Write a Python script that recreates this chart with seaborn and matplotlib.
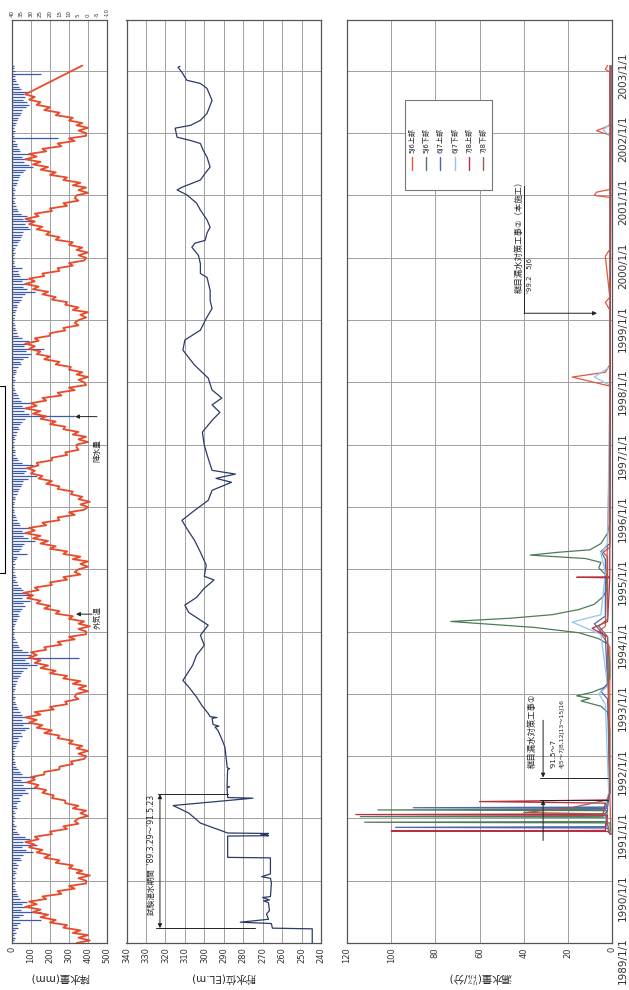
import pandas as pd
import numpy as np
import matplotlib
matplotlib.use('Agg')
import matplotlib.pyplot as plt
import matplotlib.dates as mdates
import matplotlib.transforms as mtransforms
from matplotlib.patches import Rectangle
from matplotlib.lines import Line2D
import seaborn as sns

sns.set_style('white')
plt.rcParams['font.family'] = ['DejaVu Sans', 'Noto Sans CJK JP']
plt.rcParams['axes.unicode_minus'] = False

years = list(range(1989, 2004))
year_labels = ['%d/1/1' % y for y in years]

# outside air temperature (deg C), half-monthly from 1989/1/1 (1st, 16th)
temp_c = [
    6, -1, 5, 0, 8, 4, 13, 11, 20, 17, 25, 21, 29, 25, 33, 27, 31, 22, 24, 14, 16, 7, 10, 1,   # 1989
    1, 5, -1, 6, 3, 10, 8, 17, 15, 23, 20, 27, 24, 31, 28, 33, 26, 28, 19, 20, 11, 13, 5, 7,   # 1990
    5, 0, 4, 1, 8, 5, 12, 12, 19, 18, 24, 22, 28, 26, 32, 28, 30, 23, 23, 15, 15, 8, 9, 2,     # 1991
    1, 5, 0, 6, 3, 10, 8, 16, 15, 23, 19, 27, 24, 31, 27, 33, 25, 28, 18, 20, 11, 12, 5, 7,    # 1992
    6, 0, 5, 1, 8, 4, 13, 11, 20, 17, 25, 21, 28, 25, 31, 27, 30, 22, 23, 14, 16, 7, 10, 1,    # 1993
    1, 5, -1, 5, 2, 10, 8, 17, 15, 23, 20, 27, 25, 32, 29, 34, 26, 28, 19, 20, 11, 13, 4, 7,   # 1994
    5, 0, 4, 0, 8, 4, 13, 11, 20, 17, 25, 21, 29, 25, 33, 28, 31, 22, 24, 15, 16, 7, 10, 2,    # 1995
    0, 4, -1, 5, 3, 9, 8, 16, 15, 22, 19, 26, 24, 30, 28, 32, 26, 27, 19, 19, 11, 12, 5, 6,    # 1996
    6, 0, 5, 1, 8, 5, 13, 12, 20, 17, 25, 22, 29, 25, 33, 27, 30, 22, 24, 14, 16, 7, 10, 1,    # 1997
    2, 5, 0, 6, 3, 10, 9, 17, 15, 23, 20, 27, 25, 31, 28, 33, 26, 28, 20, 20, 12, 13, 5, 7,    # 1998
    5, 1, 4, 0, 8, 5, 12, 11, 19, 17, 24, 21, 29, 26, 33, 28, 31, 23, 24, 15, 16, 8, 10, 2,    # 1999
    1, 5, 0, 6, 3, 10, 8, 17, 15, 22, 20, 27, 24, 31, 28, 33, 26, 28, 19, 20, 11, 13, 5, 7,    # 2000
    6, 0, 5, 1, 8, 4, 13, 11, 20, 17, 25, 21, 29, 25, 33, 27, 31, 22, 24, 14, 16, 7, 10, 1,    # 2001
    1, 5, 0, 6, 3, 10, 8, 17, 15, 23, 20, 27, 25, 31, 28, 33,                                  # 2002 (to Aug)
]
temp_last_date = '2003-02-01'
temp_last = 3

# precipitation (mm), half-monthly from 1989/1/1
rain_mm = [
    12, 8, 15, 10, 22, 18, 30, 25, 40, 155, 35, 60, 150, 45, 70, 55, 80, 40, 30, 25, 20, 15, 10, 14,
    10, 14, 8, 20, 18, 25, 30, 22, 45, 40, 60, 110, 75, 50, 130, 60, 95, 70, 35, 25, 18, 22, 12, 9,
    14, 9, 18, 12, 25, 20, 28, 40, 35, 55, 85, 70, 140, 60, 90, 45, 120, 50, 40, 30, 20, 15, 16, 10,
    9, 12, 10, 15, 20, 28, 35, 30, 50, 45, 70, 90, 60, 120, 55, 75, 50, 40, 30, 25, 22, 18, 12, 14,
    12, 10, 15, 18, 22, 25, 30, 40, 45, 60, 80, 130, 90, 70, 350, 100, 85, 55, 35, 30, 25, 16, 10, 12,
    10, 13, 12, 16, 20, 24, 35, 30, 40, 55, 70, 60, 95, 50, 110, 75, 60, 45, 30, 28, 18, 20, 14, 9,
    11, 9, 14, 12, 22, 28, 80, 35, 45, 50, 65, 120, 85, 60, 70, 55, 90, 40, 35, 25, 20, 16, 12, 10,
    9, 12, 10, 14, 18, 25, 30, 35, 45, 55, 60, 85, 130, 65, 75, 90, 110, 50, 30, 25, 18, 14, 15, 11,
    12, 10, 15, 13, 20, 28, 35, 30, 40, 55, 70, 330, 90, 65, 80, 55, 100, 45, 35, 30, 22, 18, 10, 12,
    10, 14, 12, 16, 22, 20, 30, 45, 40, 60, 85, 100, 75, 170, 65, 80, 90, 50, 30, 28, 20, 16, 14, 9,
    12, 9, 15, 14, 20, 25, 28, 35, 45, 50, 70, 120, 80, 60, 95, 55, 85, 40, 35, 30, 55, 18, 12, 10,
    9, 12, 14, 10, 18, 24, 30, 40, 45, 55, 60, 95, 85, 70, 115, 60, 80, 45, 30, 25, 22, 16, 12, 14,
    12, 10, 15, 13, 20, 26, 30, 35, 40, 60, 70, 110, 90, 65, 75, 55, 100, 40, 35, 28, 24, 18, 240, 12,
    10, 14, 12, 18, 22, 25, 32, 40, 45, 55, 75, 90, 80, 60, 70, 65, 85, 45, 38, 30, 22, 18, 14, 150,
    16, 12, 10,
]

# reservoir water level (EL.m)
level_dates = [
    '1989-01-01', '1989-03-25', '1989-03-29', '1989-04-25', '1989-05-03', '1989-05-20', '1989-06-20',
    '1989-07-10', '1989-08-25', '1989-09-05', '1989-09-10', '1989-09-25', '1989-09-30', '1989-12-20',
    '1990-01-15', '1990-01-25', '1990-02-10', '1990-05-15', '1990-05-18', '1990-09-20', '1990-09-22',
    '1990-09-26', '1990-09-29', '1990-10-02', '1990-10-05', '1990-10-08', '1990-12-05', '1991-02-02',
    '1991-03-18', '1991-04-30', '1991-05-04', '1991-07-01', '1991-07-05', '1991-07-09', '1991-10-15',
    '1991-10-20', '1991-10-25', '1992-02-24', '1992-04-10', '1992-06-01', '1992-06-20', '1992-06-25',
    '1992-07-05', '1992-08-10', '1992-08-15', '1992-08-20', '1992-09-08', '1992-10-20', '1992-12-13',
    '1993-02-10', '1993-03-20', '1993-06-17', '1993-08-15', '1993-10-12', '1993-12-10', '1994-02-07',
    '1994-04-23', '1994-06-05', '1994-07-20', '1994-09-12', '1994-10-30', '1994-11-21', '1995-01-25',
    '1995-04-11', '1995-06-19', '1995-08-28', '1995-10-15', '1995-12-12', '1996-02-09', '1996-04-08',
    '1996-05-25', '1996-06-17', '1996-07-12', '1996-08-03', '1996-10-12', '1996-12-28', '1997-03-15',
    '1997-05-23', '1997-07-09', '1997-08-22', '1997-10-01', '1997-11-17', '1998-01-26', '1998-04-12',
    '1998-07-09', '1998-09-06', '1998-11-03', '1999-01-11', '1999-03-10', '1999-04-26', '1999-06-24',
    '1999-09-08', '1999-10-01', '1999-11-27', '2000-01-15', '2000-03-03', '2000-03-27', '2000-04-12',
    '2000-05-26', '2000-06-28', '2000-08-10', '2000-10-07', '2000-11-17', '2001-01-04', '2001-02-02',
    '2001-02-20', '2001-04-01', '2001-05-10', '2001-06-16', '2001-08-13', '2001-09-23', '2001-11-01',
    '2001-11-20', '2001-12-08', '2002-01-30', '2002-02-16', '2002-03-17', '2002-04-27', '2002-07-12',
    '2002-09-20', '2002-10-19', '2002-11-07', '2002-12-24', '2003-01-22', '2003-01-28',
]
level_el = [
    244.5, 244.5, 265.0, 265.5, 281.5, 267.0, 268.0,
    266.5, 267.0, 269.5, 266.5, 270.0, 266.0, 265.5,
    266.0, 270.5, 266.0, 266.0, 288.0, 288.0, 267.0,
    270.5, 267.5, 271.0, 267.0, 288.0, 302.0, 308.0,
    316.0, 275.0, 288.0, 288.3, 287.0, 288.3, 288.0,
    287.0, 288.2, 289.4, 291.0, 293.0, 294.5, 292.5,
    295.5, 296.0, 293.5, 297.0, 298.0, 301.0, 304.0,
    308.0, 311.0, 306.0, 304.0, 300.0, 302.0, 298.0,
    308.0, 310.0, 304.0, 300.0, 295.0, 300.0, 299.0,
    302.0, 305.0, 309.0, 311.5, 305.0, 298.0, 296.0,
    286.0, 294.0, 284.0, 296.0, 298.0, 300.0, 301.0,
    296.0, 292.0, 296.0, 291.0, 296.0, 298.0, 305.0,
    311.0, 310.0, 302.0, 299.0, 296.0, 297.0, 297.0,
    298.6, 302.0, 302.0, 303.0, 306.4, 304.8, 299.6,
    298.6, 297.0, 298.6, 302.0, 304.0, 309.0, 314.0,
    311.0, 302.0, 299.6, 297.0, 298.6, 300.6, 302.0,
    307.4, 314.0, 315.0, 307.0, 302.0, 298.6, 296.0,
    298.6, 302.0, 309.0, 311.5, 313.5, 312.5,
]

# joint leakage (l/min), six measuring points
leak_series = ['5J6上部', '5J6下部', '6J7上部', '6J7下部', '7J8上部', '7J8下部']
leak_colors = ['#e2573f', '#4c7d57', '#4a66b5', '#92c6ea', '#b8303f', '#9c5e52']

leak_5j6_top = [
    ('1990-10-01', 0.5), ('1991-06-01', 1), ('1993-10-01', 1), ('1993-12-01', 4), ('1994-01-01', 6),
    ('1994-02-01', 3), ('1997-01-01', 1), ('1997-12-10', 1), ('1998-02-01', 18), ('1998-03-01', 3),
    ('1998-04-15', 1), ('1999-03-01', 1), ('1999-04-15', 3), ('1999-05-15', 1), ('2000-01-10', 3),
    ('2000-02-20', 1), ('2000-12-20', 1), ('2001-01-01', 8), ('2001-01-20', 7), ('2001-02-05', 1),
    ('2001-12-20', 1), ('2002-01-15', 7), ('2002-02-15', 1), ('2002-12-25', 1), ('2003-01-10', 3),
    ('2003-02-01', 2),
]
leak_5j6_bot = [
    ('1990-10-01', 0.5), ('1990-12-06', 1), ('1990-12-10', 112), ('1990-12-14', 2), ('1991-01-08', 3),
    ('1991-01-12', 114), ('1991-01-16', 4), ('1991-02-16', 2), ('1991-02-20', 106), ('1991-02-24', 3),
    ('1991-04-15', 2), ('1991-06-01', 1), ('1992-06-01', 1), ('1992-09-15', 2), ('1992-10-20', 5),
    ('1992-11-20', 14), ('1992-12-05', 10), ('1992-12-20', 16), ('1993-01-10', 9), ('1993-02-10', 3),
    ('1993-04-01', 1), ('1993-07-01', 1), ('1993-10-20', 2), ('1993-11-20', 6), ('1993-12-25', 15),
    ('1994-01-25', 35), ('1994-03-01', 73), ('1994-03-20', 46), ('1994-04-10', 27), ('1994-05-10', 15),
    ('1994-06-10', 8), ('1994-07-25', 4), ('1994-09-15', 2), ('1994-12-01', 3), ('1995-01-10', 6),
    ('1995-02-10', 5), ('1995-03-05', 12), ('1995-03-25', 37), ('1995-04-10', 25), ('1995-04-25', 10),
    ('1995-06-01', 5), ('1995-08-01', 2), ('1995-10-01', 1), ('1996-06-01', 1), ('2003-02-01', 0.5),
]
leak_6j7_top = [
    ('1990-10-01', 1), ('1990-11-06', 2), ('1990-11-10', 98), ('1990-11-14', 3), ('1991-03-01', 2),
    ('1991-03-05', 90), ('1991-03-09', 2), ('1991-06-01', 1), ('1992-12-01', 2), ('1993-01-15', 5),
    ('1993-03-01', 2), ('1993-12-01', 3), ('1994-02-15', 8), ('1994-04-01', 3), ('1995-03-01', 3),
    ('1995-04-15', 5), ('1995-06-01', 1), ('2003-02-01', 0.5),
]
leak_6j7_bot = [
    ('1990-10-01', 0.5), ('1991-02-01', 4), ('1991-06-01', 1.5), ('1992-11-01', 3), ('1993-01-01', 6),
    ('1993-02-15', 2), ('1993-12-15', 5), ('1994-02-25', 18), ('1994-04-10', 5), ('1994-12-15', 3),
    ('1995-04-01', 5), ('1995-06-01', 2), ('1997-12-15', 1), ('1998-02-01', 8), ('1998-04-01', 1),
    ('2001-12-15', 1), ('2002-01-20', 4), ('2002-03-01', 0.5), ('2003-02-01', 0.5),
]
leak_7j8_top = [
    ('1990-10-01', 0.5), ('1990-10-17', 2), ('1990-10-20', 100), ('1990-10-23', 3), ('1991-01-20', 2),
    ('1991-01-24', 116), ('1991-01-28', 4), ('1991-04-01', 3), ('1991-04-10', 60), ('1991-04-20', 2),
    ('1991-06-01', 1), ('1993-12-01', 2), ('1994-01-20', 9), ('1994-03-01', 2), ('1994-11-12', 1),
    ('1994-11-15', 16), ('1994-11-18', 1), ('1995-06-01', 1), ('2003-02-01', 0.5),
]
leak_7j8_bot = [
    ('1990-10-01', 1), ('1991-01-28', 3), ('1991-02-05', 40), ('1991-03-01', 20), ('1991-04-20', 2),
    ('1991-06-01', 1), ('1993-12-01', 2), ('1994-02-01', 6), ('1994-03-15', 2), ('1995-03-15', 2),
    ('1995-04-10', 4), ('1995-05-10', 1), ('2003-02-01', 1),
]
leak_data = [leak_5j6_top, leak_5j6_bot, leak_6j7_top, leak_6j7_bot, leak_7j8_top, leak_7j8_bot]


def dnum(s):
    return mdates.date2num(pd.Timestamp(s))


def half_months(n):
    out = []
    for i in range(n):
        out.append(pd.Timestamp(1989 + i // 24, (i % 24) // 2 + 1, 1 if i % 2 == 0 else 16))
    return mdates.date2num(out)


temp_y = np.append(half_months(len(temp_c)), dnum(temp_last_date))
temp_x = temp_c + [temp_last]
rain_y = half_months(len(rain_mm))
level_y = mdates.date2num(pd.to_datetime(level_dates))

rows = []
for name, pts in zip(leak_series, leak_data):
    for ds, v in pts:
        rows.append({'date': dnum(ds), 'value': v, 'series': name})
leak_df = pd.DataFrame(rows)

W, H = 629, 990
y_lo = dnum('1989-01-01')
y_hi = y_lo + 14.815 * 365.25
year_nums = [dnum('%d-01-01' % y) for y in years]
bot = (H - 943) / H
hgt = 923 / H

fig = plt.figure(figsize=(W / 100, H / 100), dpi=100)
ax1 = fig.add_axes([12 / W, bot, 95 / W, hgt])
ax2 = fig.add_axes([126.5 / W, bot, 194.5 / W, hgt])
ax3 = fig.add_axes([347 / W, bot, 265 / W, hgt])

grid_kw = dict(color='#a0a0a0', linewidth=0.7)

for ax in (ax1, ax2, ax3):
    ax.set_ylim(y_lo, y_hi)
    ax.set_yticks(year_nums)
    ax.set_yticklabels([])
    ax.grid(True, **grid_kw)
    ax.set_axisbelow(True)
    ax.tick_params(axis='y', length=0)
    ax.tick_params(axis='x', labelrotation=90, labelsize=6, length=0, pad=3, labelcolor='#333333')
    for s in ax.spines.values():
        s.set_color('#555555')
        s.set_linewidth(0.9)

# panel 1: precipitation bars hanging from the left + outside temperature
ax1.hlines(rain_y, 0, rain_mm, color='#3d5bb0', linewidth=0.9)
ax1.set_xlim(0, 500)
ax1.set_xticks(range(0, 501, 100))
ax1t = ax1.twiny()
sns.lineplot(x=temp_x, y=temp_y, orient='y', sort=False, estimator=None,
             color='#e84a2a', linewidth=1.3, ax=ax1t)
ax1t.set_xlim(40, -10)
ax1t.set_ylim(y_lo, y_hi)
ax1t.set_xticks(range(40, -11, -5))
ax1t.tick_params(axis='x', labelrotation=90, labelsize=4, length=0, pad=2, labelcolor='#333333')
ax1t.grid(False)
ax1t.set_xlabel('')
ax1t.set_ylabel('')
for s in ax1t.spines.values():
    s.set_visible(False)

arrow_kw = dict(arrowstyle='-|>', color='#222222', lw=0.7, mutation_scale=6, shrinkA=0, shrinkB=0)
ax1.annotate('', xy=(337, dnum('1994-04-13')), xytext=(421, dnum('1994-04-13')), arrowprops=arrow_kw)
ax1.text(447, dnum('1994-03-26'), '外気温', rotation=90, ha='center', va='center', fontsize=5.5)
ax1.annotate('', xy=(332, dnum('1997-06-14')), xytext=(447, dnum('1997-06-14')), arrowprops=arrow_kw)
ax1.text(447, dnum('1996-11-28'), '降水量', rotation=90, ha='center', va='center', fontsize=5.5)

# panel 2: reservoir level
sns.lineplot(x=level_el, y=level_y, orient='y', sort=False, estimator=None,
             color='#2b3a67', linewidth=0.9, ax=ax2)
ax2.set_xlim(340, 240)
ax2.set_xticks(range(340, 239, -10))
ax2.annotate('', xy=(322.8, dnum('1991-05-23')), xytext=(322.8, dnum('1989-03-29')),
             arrowprops=dict(arrowstyle='<|-|>', color='#222222', lw=0.7, mutation_scale=6,
                             shrinkA=0, shrinkB=0))
ax2.plot([323.6, 288.0], [dnum('1991-05-23')] * 2, color='#222222', lw=0.7)
ax2.plot([325.0, 274.0], [dnum('1989-03-29')] * 2, color='#222222', lw=0.7)
ax2.text(327.0, dnum('1990-06-01'), "試験湛水期間  '89.3.29～'91.5.23", rotation=90,
         ha='center', va='center', fontsize=5.5)

# panel 3: leakage
sns.lineplot(data=leak_df, x='value', y='date', hue='series', hue_order=leak_series,
             palette=leak_colors, orient='y', sort=False, estimator=None,
             linewidth=0.9, legend=False, ax=ax3)
ax3.set_xlim(120, 0)
ax3.set_xticks(range(120, -1, -20))

for a in (ax1, ax2, ax3):
    a.set_xlabel('')
    a.set_ylabel('')

# work annotation 1
ax3.text(36.2, dnum('1991-10-23'), '継目漏水対策工事①', rotation=90, rotation_mode='anchor',
         ha='left', va='center', fontsize=6)
ax3.text(26.7, dnum('1991-10-23'), "'91.5～7", rotation=90, rotation_mode='anchor',
         ha='left', va='center', fontsize=5)
ax3.text(22.6, dnum('1991-10-23'), '4J5～7J8,12J13～15J16', rotation=90, rotation_mode='anchor',
         ha='left', va='center', fontsize=4.5)
ax3.annotate('', xy=(31.2, dnum('1991-08-29')), xytext=(31.2, dnum('1992-07-30')), arrowprops=arrow_kw)
ax3.annotate('', xy=(31.2, dnum('1991-04-18')), xytext=(31.2, dnum('1990-08-25')), arrowprops=arrow_kw)
ax3.plot([32.6, 1.8], [dnum('1991-08-29')] * 2, color='#222222', lw=0.7)
ax3.plot([32.6, 1.8], [dnum('1991-04-18')] * 2, color='#222222', lw=0.7)

# work annotation 2
ax3.text(42.1, dnum('1999-06-08'), '継目漏水対策工事②（本施工）', rotation=90, rotation_mode='anchor',
         ha='left', va='center', fontsize=6)
ax3.text(37.1, dnum('1999-06-08'), "'99.2   5J6", rotation=90, rotation_mode='anchor',
         ha='left', va='center', fontsize=5)
ax3.plot([39.8, 39.8], [dnum('2001-02-25'), dnum('1999-02-10')], color='#222222', lw=0.7)
ax3.annotate('', xy=(6.8, dnum('1999-02-10')), xytext=(39.8, dnum('1999-02-10')), arrowprops=arrow_kw)

# legend drawn in the rotated layout
ax3.add_patch(Rectangle((0.219, 0.816), 0.328, 0.097, transform=ax3.transAxes,
                        facecolor='white', edgecolor='#777777', lw=0.8, zorder=5))
for i, (name, col) in enumerate(zip(leak_series, leak_colors)):
    lx = 0.245 + i * 0.0536
    ax3.add_line(Line2D([lx, lx], [0.8375, 0.8516], transform=ax3.transAxes,
                        color=col, lw=1.0, zorder=6))
    ax3.text(lx, 0.856, name, transform=ax3.transAxes, rotation=90, rotation_mode='anchor',
             ha='left', va='center', fontsize=5, zorder=6)

# date labels on the right side
blend = mtransforms.blended_transform_factory(ax3.transAxes, ax3.transData)
for k, (yn, lab) in enumerate(zip(year_nums, year_labels)):
    off_px = 18 - 0.93 * k
    ax3.text(1.042, yn - off_px / 62.3 * 365.25, lab, transform=blend, rotation=90,
             ha='center', va='center', fontsize=7.5, color='#333333')

# axis titles (upside down in the rotated scan)
fig.text(59.5 / W, 1 - 978 / H, '降水量(mm)', rotation=180, ha='center', va='center', fontsize=7.5)
fig.text(223.7 / W, 1 - 978 / H, '貯水位(EL.m)', rotation=180, ha='center', va='center', fontsize=7.5)
fig.text(479.5 / W, 1 - 978 / H, '漏水量(㍑/分)', rotation=180, ha='center', va='center', fontsize=7.5)

# bracket from the scanned page edge
fig.add_artist(Line2D([0, 5 / W, 5 / W, 0], [1 - 386 / H, 1 - 386 / H, 1 - 573 / H, 1 - 573 / H],
                      transform=fig.transFigure, color='black', lw=0.8))

fig.savefig('out.png', dpi=100)
